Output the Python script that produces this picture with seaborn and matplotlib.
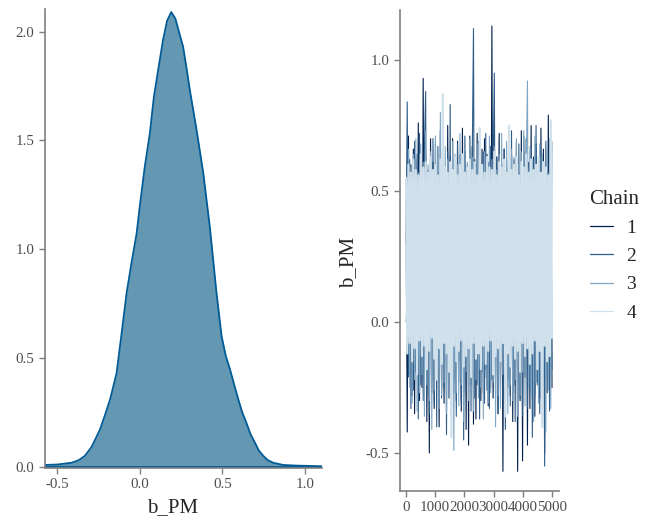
import numpy as np
import pandas as pd
import matplotlib
matplotlib.use("Agg")
import matplotlib.pyplot as plt
from matplotlib.lines import Line2D
import seaborn as sns

sns.set_theme(style="ticks")
plt.rcParams["font.family"] = ["Liberation Serif", "DejaVu Serif"]

# ---------------- density panel data ----------------
dens_x = [-0.574, -0.50, -0.414, -0.37, -0.333, -0.293, -0.242, -0.21, -0.18,
          -0.141, -0.111, -0.08, -0.05, -0.02, 0.0, 0.03, 0.06, 0.085, 0.11,
          0.14, 0.165, 0.19, 0.215, 0.24, 0.262, 0.283, 0.303, 0.343, 0.384,
          0.424, 0.464, 0.495, 0.52, 0.545, 0.57, 0.596, 0.62, 0.646, 0.67,
          0.697, 0.72, 0.747, 0.775, 0.808, 0.868, 0.949, 1.103]
dens_y = [0.008, 0.010, 0.018, 0.030, 0.05, 0.09, 0.17, 0.24, 0.31,
          0.43, 0.61, 0.80, 0.94, 1.07, 1.20, 1.38, 1.53, 1.70, 1.82,
          1.96, 2.05, 2.09, 2.06, 1.99, 1.93, 1.83, 1.73, 1.55, 1.35,
          1.10, 0.80, 0.60, 0.51, 0.45, 0.38, 0.31, 0.25, 0.20, 0.15,
          0.11, 0.075, 0.05, 0.030, 0.018, 0.008, 0.005, 0.002]

# ---------------- trace panel data (thinned draws) ----------------
chain1 = [0.46, -0.42, 0.71, -0.20, 0.60, -0.28, 0.66, -0.35, 0.62, -0.18,
          0.76, -0.30, 0.58, -0.25, 0.93, -0.22, 0.64, -0.38, 0.55, -0.50,
          0.70, -0.27, 0.61, -0.33, 0.68, -0.21, 0.57, -0.40, 0.73, -0.26,
          0.66, -0.31, 0.59, -0.19, 0.75, -0.29, 0.63, -0.36, 0.70, -0.23,
          0.61, -0.30, 0.69, -0.15, 0.58, -0.34, 0.74, -0.28, 0.65, -0.41,
          0.60, -0.47, 0.71, -0.24, 0.67, -0.39, 0.62, -0.37, 0.72, -0.22,
          0.58, -0.30, 0.66, -0.27, 0.70, -0.18, 0.64, -0.32, 0.61, -0.25,
          1.13, -0.29, 0.68, -0.20, 0.63, -0.35, 0.72, -0.26, 0.60, -0.57,
          0.66, -0.31, 0.59, -0.22, 0.71, -0.28, 0.64, -0.38, 0.62, -0.24,
          0.69, -0.57, 0.57, -0.30, 0.73, -0.53, 0.65, -0.21, 0.70, -0.47,
          0.61, -0.33, 0.75, -0.26, 0.63, -0.36, 0.68, -0.23, 0.60, -0.29,
          0.74, -0.34, 0.66, -0.50, 0.59, -0.27, 0.79, -0.22, 0.68, -0.25]
chain2 = [0.30, 0.84, -0.21, 0.62, -0.33, 0.57, -0.26, 0.69, -0.19, 0.64,
          -0.37, 0.72, -0.24, 0.60, -0.30, 0.66, 0.88, -0.28, 0.58, -0.35,
          0.63, -0.22, 0.70, -0.31, 0.55, -0.40, 0.67, -0.17, 0.61, -0.29,
          0.74, -0.25, 0.59, -0.43, 0.65, -0.20, 0.83, -0.32, 0.62, -0.27,
          0.57, -0.36, 0.68, -0.23, 0.64, -0.30, 0.60, -0.45, 0.71, -0.26,
          0.58, -0.21, 0.66, -0.34, 0.63, 1.12, -0.29, 0.60, -0.24, 0.69,
          -0.37, 0.56, -0.19, 0.65, -0.31, 0.72, -0.26, 0.61, -0.33, 0.67,
          -0.22, 0.58, 0.95, -0.28, 0.63, -0.35, 0.70, -0.20, 0.59, -0.30,
          0.66, -0.41, 0.62, -0.25, 0.57, -0.32, 0.73, -0.27, 0.60, -0.38,
          0.64, -0.23, 0.68, -0.29, 0.56, -0.36, 0.71, -0.21, 0.63, -0.33,
          0.59, -0.26, 0.67, -0.44, 0.62, -0.28, 0.75, -0.24, 0.58, -0.35,
          0.65, -0.30, 0.61, -0.55, 0.69, -0.22, 0.57, -0.34, 0.66, -0.18]
chain3 = [0.00, 0.08, 0.66, -0.25, 0.59, -0.31, 0.64, -0.22, 0.70, -0.34,
          0.57, -0.27, 0.68, -0.20, 0.61, -0.36, 0.73, -0.24, 0.60, -0.30,
          0.65, -0.41, 0.58, -0.26, 0.71, -0.18, 0.63, -0.33, 0.80, -0.28,
          0.59, -0.23, 0.67, -0.35, 0.62, -0.29, 0.56, -0.21, 0.69, -0.49,
          0.64, -0.27, 0.60, -0.32, 0.72, -0.24, 0.58, -0.38, 0.66, -0.19,
          0.61, -0.30, 0.70, -0.26, 0.63, -0.34, 0.57, -0.22, 0.68, -0.29,
          0.74, -0.25, 0.60, -0.37, 0.65, -0.21, 0.59, -0.31, 0.71, -0.27,
          0.62, -0.23, 0.67, -0.40, 0.58, -0.28, 0.64, -0.33, 0.72, -0.20,
          0.61, -0.26, 0.69, -0.35, 0.57, -0.24, 0.66, -0.30, 0.63, -0.22,
          0.70, -0.36, 0.60, -0.28, 0.65, -0.19, 0.73, -0.32, 0.59, 0.92,
          -0.25, 0.67, -0.29, 0.62, -0.38, 0.71, -0.23, 0.58, -0.31, 0.68,
          -0.27, 0.64, -0.21, 0.60, -0.42, 0.66, -0.26, 0.70, -0.33, 0.69]
chain4 = [0.55, -0.12, 0.60, -0.08, 0.57, -0.15, 0.62, -0.10, 0.58, -0.20,
          0.56, -0.07, 0.64, -0.13, 0.59, -0.09, 0.61, -0.18, 0.57, -0.11,
          0.63, -0.06, 0.58, -0.14, 0.60, -0.22, 0.56, -0.10, 0.62, -0.16,
          0.87, -0.08, 0.59, -0.12, 0.57, -0.19, 0.61, -0.44, 0.58, -0.09,
          0.63, -0.15, 0.56, -0.11, 0.60, -0.07, 0.64, -0.17, 0.57, -0.13,
          0.59, -0.10, 0.62, -0.21, 0.58, -0.08, 0.61, -0.14, 0.56, -0.12,
          0.74, -0.18, 0.60, -0.09, 0.57, -0.16, 0.63, -0.11, 0.59, -0.07,
          0.58, -0.20, 0.65, -0.13, 0.56, -0.10, 0.61, -0.15, 0.59, -0.08,
          0.62, -0.36, 0.57, -0.12, 0.75, -0.17, 0.58, -0.09, 0.60, -0.14,
          0.63, -0.11, 0.56, -0.19, 0.61, -0.08, 0.59, -0.13, 0.64, -0.10,
          0.57, -0.16, 0.62, -0.12, 0.58, -0.07, 0.60, -0.18, 0.63, -0.11,
          0.57, -0.40, 0.61, -0.09, 0.59, -0.15, 0.56, -0.13, 0.77, -0.06]
chain_labels = ["1", "2", "3", "4"]
x_ticks_trace = [0, 1000, 2000, 3000, 4000, 5000]
y_ticks_trace = [-0.5, 0.0, 0.5, 1.0]
x_ticks_dens = [-0.5, 0.0, 0.5, 1.0]
y_ticks_dens = [0.0, 0.5, 1.0, 1.5, 2.0]

chains = [chain1, chain2, chain3, chain4]
frames = []
for lab, vals in zip(chain_labels, chains):
    it = np.linspace(1, 5000, len(vals))
    frames.append(pd.DataFrame({"iteration": it, "b_PM": vals, "Chain": lab}))
trace_df = pd.concat(frames, ignore_index=True)
dens_df = pd.DataFrame({"b_PM": dens_x, "density": dens_y})

palette = {"1": "#011f4b", "2": "#2f5d8a", "3": "#7fa6c4", "4": "#d1e1ec"}
line_w = {"1": 0.8, "2": 0.8, "3": 0.8, "4": 1.6}
tick_col = "#4d4d4d"
spine_col = "#7f7f7f"

fig = plt.figure(figsize=(6.51, 5.27), dpi=100)
ax1 = fig.add_axes([45 / 651, 1 - 468 / 527, 277 / 651, 459 / 527])
ax2 = fig.add_axes([400 / 651, 1 - 491 / 527, 159 / 651, 481 / 527])

# density
ax1.fill_between(dens_df["b_PM"], 0, dens_df["density"], color="#6497b1", lw=0)
sns.lineplot(data=dens_df, x="b_PM", y="density", ax=ax1, color="#005b96",
             lw=1.3, sort=False)
ax1.plot([dens_x[0], dens_x[-1]], [0, 0], color="#005b96", lw=1.3)
ax1.set_xlim(-0.5745, 1.103)
ax1.set_ylim(-0.006, 2.104)
ax1.set_xticks(x_ticks_dens)
ax1.set_xticklabels(["-0.5", "0.0", "0.5", "1.0"])
ax1.set_yticks(y_ticks_dens)
ax1.set_yticklabels(["0.0", "0.5", "1.0", "1.5", "2.0"])
ax1.set_xlabel("b_PM", fontsize=15)
ax1.set_ylabel("")
ax1.xaxis.set_label_coords(0.462, -0.065)

# trace
for lab in chain_labels:
    sub = trace_df[trace_df["Chain"] == lab]
    sns.lineplot(data=sub, x="iteration", y="b_PM", color=palette[lab],
                 estimator=None, sort=False, lw=line_w[lab], ax=ax2)
ax2.set_xlim(-205, 5240)
ax2.set_ylim(-0.645, 1.191)
ax2.set_xticks(x_ticks_trace)
ax2.set_xticklabels([str(v) for v in x_ticks_trace])
ax2.set_yticks(y_ticks_trace)
ax2.set_yticklabels(["-0.5", "0.0", "0.5", "1.0"])
ax2.set_xlabel("")
ax2.set_ylabel("b_PM", fontsize=15)
ax2.yaxis.set_label_coords(-0.265, 0.475)

handles = [Line2D([0], [0], color=palette[l], lw=0.9) for l in chain_labels]
leg = fig.legend(handles, chain_labels, title="Chain", frameon=False,
                 loc="upper left", bbox_to_anchor=(572 / 651, 1 - 172 / 527),
                 fontsize=14, title_fontsize=15, handlelength=1.2,
                 handletextpad=0.7, labelspacing=0.55, alignment="left")

for ax in (ax1, ax2):
    sns.despine(ax=ax)
    for s in ("left", "bottom"):
        ax.spines[s].set_color(spine_col)
        ax.spines[s].set_linewidth(1.2)
    ax.tick_params(axis="both", colors=spine_col, labelcolor=tick_col,
                   labelsize=10.8, length=4, width=1.0, direction="out")
    ax.grid(False)
    ax.set_facecolor("white")

fig.savefig("out.png", dpi=100)
